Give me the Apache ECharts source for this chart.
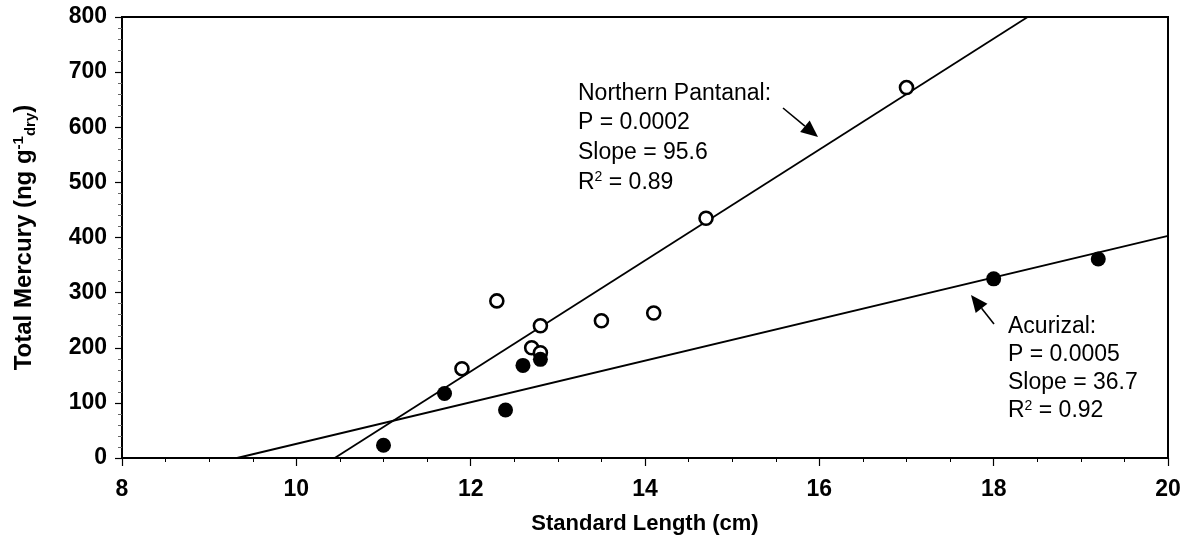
<!DOCTYPE html>
<html>
<head>
<meta charset="utf-8">
<script src="https://cdn.jsdelivr.net/npm/echarts@6/dist/echarts.min.js"></script>
<style>html,body{margin:0;padding:0;background:#fff;}#c{width:1184px;height:535px;}</style>
</head>
<body>
<div id="c"></div>
<script>
// Northern Pantanal (open circles)
const npLength = [11.9, 12.3, 12.7, 12.8, 12.8, 13.5, 14.1, 14.7, 17.0];
const npMercury = [162, 285, 200, 240, 191, 249, 263, 435, 672];
// Acurizal (filled circles)
const acLength = [11.0, 11.7, 12.4, 12.6, 12.8, 18.0, 19.2];
const acMercury = [23, 117, 87, 168, 179, 325, 361];
// Regression line endpoints (as drawn)
const npFitX = [10.44, 18.39];
const npFitY = [0, 800];
const acFitX = [9.32, 20];
const acFitY = [0, 403];
// Axis ticks
const xTicks = [8, 10, 12, 14, 16, 18, 20];
const yTicks = [0, 100, 200, 300, 400, 500, 600, 700, 800];
// Annotation text
const npNote = ['Northern Pantanal:', 'P = 0.0002', 'Slope = 95.6', 'R{sup|2} = 0.89'];
const acNote = ['Acurizal:', 'P = 0.0005', 'Slope = 36.7', 'R{sup|2} = 0.92'];

const zip = (a, b) => a.map((v, i) => [v, b[i]]);
const FONT = '"Liberation Sans", Arial, sans-serif';

const chart = echarts.init(document.getElementById('c'), null, {renderer: 'canvas'});

function noteText(lines, x, y, gap) {
  return lines.map((t, i) => ({
    type: 'text', left: x, top: y + i * gap, z: 10,
    style: {
      text: t, fill: '#000', font: '23px ' + FONT,
      rich: { sup: { fontSize: 14, verticalAlign: 'top', padding: [0, 0, 10, 0], fontFamily: FONT } }
    }
  }));
}
function arrow(x1, y1, x2, y2) {
  const ang = Math.atan2(y2 - y1, x2 - x1);
  const L = 17, W = 7.5;
  const bx = x2 - L * Math.cos(ang), by = y2 - L * Math.sin(ang);
  const px = -Math.sin(ang) * W, py = Math.cos(ang) * W;
  return [
    { type: 'line', z: 10, shape: { x1: x1, y1: y1, x2: bx, y2: by }, style: { stroke: '#000', lineWidth: 1.6 } },
    { type: 'polygon', z: 10, shape: { points: [[x2, y2], [bx + px, by + py], [bx - px, by - py]] }, style: { fill: '#000' } }
  ];
}

const option = {
  animation: false,
  backgroundColor: '#fff',
  grid: {
    left: 122, right: 16, top: 17, bottom: 77, containLabel: false, outerBoundsMode: 'none',
    show: true, borderColor: '#000', borderWidth: 2, backgroundColor: 'transparent'
  },
  xAxis: {
    type: 'value', min: xTicks[0], max: xTicks[xTicks.length - 1], interval: 2,
    name: 'Standard Length (cm)', nameLocation: 'middle', nameGap: 55,
    nameTextStyle: { fontFamily: FONT, fontWeight: 'bold', fontSize: 22, color: '#000' },
    axisLine: { lineStyle: { color: '#000', width: 2 } },
    axisTick: { show: true, inside: false, length: 8, lineStyle: { color: '#000', width: 1.2 } },
    minorTick: { show: true, splitNumber: 4, length: 4, lineStyle: { color: '#000', width: 1 } },
    splitLine: { show: false },
    axisLabel: { margin: 20, color: '#000', fontFamily: FONT, fontWeight: 'bold', fontSize: 23 }
  },
  yAxis: {
    type: 'value', min: yTicks[0], max: yTicks[yTicks.length - 1], interval: 100,
    name: 'Total Mercury (ng g{sup|-1}{sub|dry})', nameLocation: 'middle', nameGap: 84, nameRotate: 90,
    nameTextStyle: {
      fontFamily: FONT, fontWeight: 'bold', fontSize: 24, color: '#000',
      rich: {
        sup: { fontFamily: FONT, fontWeight: 'bold', fontSize: 15, verticalAlign: 'top', padding: [0, 0, 12, 0], color: '#000' },
        sub: { fontFamily: FONT, fontWeight: 'bold', fontSize: 15, verticalAlign: 'bottom', padding: [9, 0, 0, 0], color: '#000' }
      }
    },
    axisLine: { lineStyle: { color: '#000', width: 2 } },
    axisTick: { show: true, inside: false, length: 7, lineStyle: { color: '#000', width: 1.2 } },
    minorTick: { show: true, splitNumber: 5, length: 4, lineStyle: { color: '#666', width: 1 } },
    splitLine: { show: false },
    axisLabel: { margin: 15, color: '#000', fontFamily: FONT, fontWeight: 'bold', fontSize: 23 }
  },
  series: [
    {
      name: 'NP fit', type: 'line', data: zip(npFitX, npFitY), showSymbol: false, symbol: 'none',
      lineStyle: { color: '#000', width: 1.8 }, z: 2, silent: true
    },
    {
      name: 'Acurizal fit', type: 'line', data: zip(acFitX, acFitY), showSymbol: false, symbol: 'none',
      lineStyle: { color: '#000', width: 1.8 }, z: 2, silent: true
    },
    {
      name: 'Northern Pantanal', type: 'scatter', data: zip(npLength, npMercury),
      symbol: 'circle', symbolSize: 13,
      itemStyle: { color: '#fff', borderColor: '#000', borderWidth: 2.6, opacity: 1 }, z: 4
    },
    {
      name: 'Acurizal', type: 'scatter', data: zip(acLength, acMercury),
      symbol: 'circle', symbolSize: 15,
      itemStyle: { color: '#000', borderWidth: 0, opacity: 1 }, z: 5
    }
  ],
  graphic: [].concat(
    noteText(npNote, 578, 82, 29.5),
    noteText(acNote, 1008, 315, 28),
    arrow(783, 108, 818, 137),
    arrow(994, 324, 971, 295)
  )
};
chart.setOption(option);
</script>
</body>
</html>
